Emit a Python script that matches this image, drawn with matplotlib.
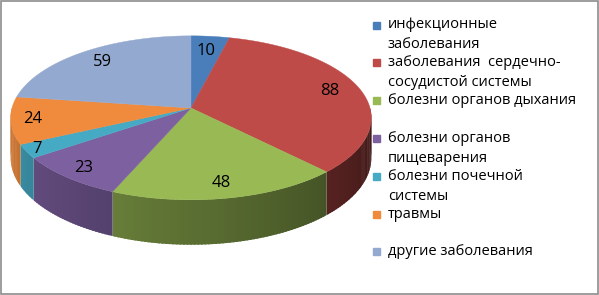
import numpy as np
import matplotlib
matplotlib.use("Agg")
import matplotlib.pyplot as plt
from matplotlib.patches import Rectangle
from matplotlib.colors import to_rgb

plt.rcParams['font.family'] = ['Open Sans', 'DejaVu Sans']

# data
labels = ["инфекционные\nзаболевания",
          "заболевания  сердечно-\nсосудистой системы",
          "болезни органов дыхания",
          "болезни органов\nпищеварения",
          "болезни почечной\nсистемы",
          "травмы",
          "другие заболевания"]
values = [10, 88, 48, 23, 7, 24, 59]
colors = ["#4a7ebb", "#be4b48", "#98b954", "#7d60a0", "#46aac5", "#f08a3c", "#93a9cf"]

# label radius (fraction of the pie radius) for each slice
label_r = [0.78, 0.82, 0.85, 0.88, 0.94, 0.88, 0.81]

# pie geometry in pixels
cx, cy = 191, 108
R = 179          # horizontal radius
kR = 80.8        # vertical radius before perspective
p = 0.12         # perspective
depth = 39.5


def proj(t, f=1.0, dz=0.0):
    u = f * np.sin(t)
    v = f * np.cos(t)
    s = 1.0 / (1.0 + p * v)
    return cx + R * u * s, cy - kR * v * s + dz * s


def shade(col, a_deg):
    k = 0.3 + 0.5 * (a_deg - 90) / 150
    k = min(k, 0.85)
    return tuple(c * k for c in to_rgb(col))


fig = plt.figure(figsize=(5.99, 2.95), dpi=100)
ax = fig.add_axes([0, 0, 1, 1])
ax.set_xlim(0, 599)
ax.set_ylim(295, 0)
ax.axis("off")

total = float(sum(values))
edges = np.concatenate([[0], np.cumsum(values)]) / total * 360.0

# side walls (front half only), small overlapping strips for the gradient
for i in range(len(values)):
    a0 = max(edges[i], 90)
    a1 = min(edges[i + 1], 270)
    if a1 <= a0:
        continue
    steps = np.linspace(a0, a1, max(2, int((a1 - a0) / 1.0) + 1))
    for s0, s1 in zip(steps[:-1], steps[1:]):
        t0 = np.radians(s0)
        t1 = np.radians(min(s1 + 0.6, a1))
        ts = np.linspace(t0, t1, 4)
        xt, yt = proj(ts)
        xb, yb = proj(ts[::-1], dz=depth)
        c = shade(colors[i], (s0 + s1) / 2)
        ax.fill(np.r_[xt, xb], np.r_[yt, yb], color=c, lw=0)

# top faces
for i in range(len(values)):
    ts = np.radians(np.linspace(edges[i], edges[i + 1], 80))
    xs, ys = proj(ts)
    ax.fill(np.r_[cx, xs], np.r_[cy, ys], color=colors[i], lw=0.3, ec=colors[i])

# value labels
for i, v in enumerate(values):
    tm = np.radians((edges[i] + edges[i + 1]) / 2)
    x, y = proj(tm, f=label_r[i])
    ax.text(x, y, str(v), ha="center", va="center", fontsize=12, color="black")

# legend
for i, lab in enumerate(labels):
    y = 25 + i * 37.8
    ax.add_patch(Rectangle((373, y - 3.5), 7, 7, color=colors[i]))
    for j, line in enumerate(lab.split("\n")):
        ax.text(388, y + j * 20, line, ha="left", va="center", fontsize=10.5, color="black")

fig.add_artist(Rectangle((0.001, 0.002), 0.997, 0.995, transform=fig.transFigure,
                         fill=False, ec="#8c8c8c", lw=1.2))

fig.savefig("out.png", dpi=100)
